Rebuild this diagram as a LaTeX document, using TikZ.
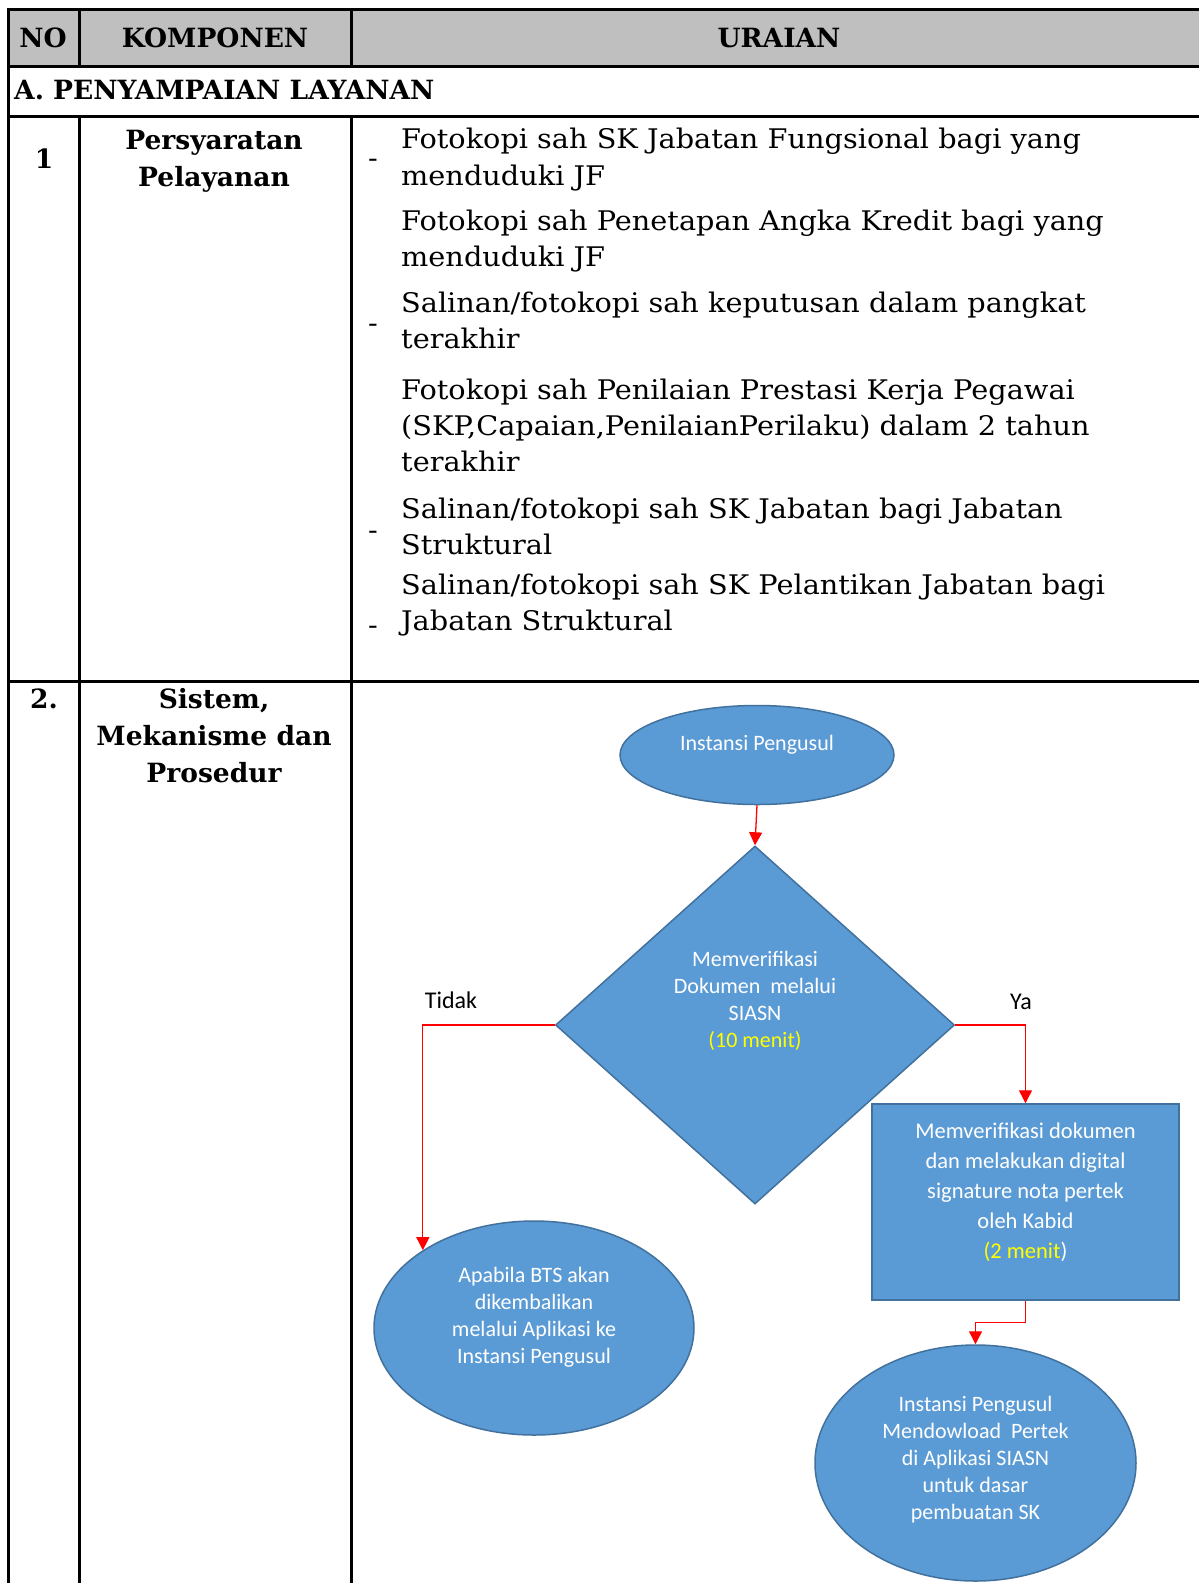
\documentclass[tikz,border=0pt]{standalone}
\usepackage{fontspec}
\setmainfont{DejaVu Serif}[FakeStretch=1.065]
\newfontfamily\hdrfont{DejaVu Serif}
\newfontfamily\flowfont{Carlito}
\usetikzlibrary{shapes.geometric,arrows.meta,calc}
\definecolor{hdrgray}{HTML}{BFBFBF}
\definecolor{boxblue}{HTML}{5B9BD5}
\definecolor{boxedge}{HTML}{41719C}
\definecolor{hiyellow}{HTML}{FFFF00}
\definecolor{arrowred}{HTML}{FF0000}
\begin{document}
\begin{tikzpicture}[x=1pt,y=-1pt,
  rule/.style={line width=3pt, draw=black, line cap=rect},
  hdr/.style={font=\hdrfont\fontsize{26.5}{30}\selectfont\bfseries, anchor=mid, inner sep=0},
  body/.style={font=\fontsize{27}{30}\selectfont, anchor=mid west, inner sep=0},
  flowtxt/.style={font=\flowfont\fontsize{22}{27}\selectfont, text=white, align=center, inner sep=0},
  blueshape/.style={fill=boxblue, draw=boxedge, line width=1.5pt, inner sep=0},
  redarrow/.style={draw=arrowred, line width=1.3pt, -{Triangle[length=13pt,width=13pt]}},
  lbl/.style={font=\flowfont\fontsize{24}{27}\selectfont, text=black, inner sep=0}
]
\useasboundingbox (0,0) rectangle (1199,1583);
\fill[white] (0,0) rectangle (1199,1583);
% ---------- table ----------
\fill[hdrgray] (8,9) rectangle (1201,66);
\draw[rule] (8,9) -- (1202,9);
\draw[rule] (8,66) -- (1202,66);
\draw[rule] (8,116) -- (1202,116);
\draw[rule] (8,681) -- (1202,681);
\draw[rule] (8,9) -- (8,1590);
\draw[rule] (79,9) -- (79,66);
\draw[rule] (351,9) -- (351,66);
\draw[rule] (79,116) -- (79,1590);
\draw[rule] (351,116) -- (351,1590);
% header
\node[hdr] (hno) at (43,45) {NO};
\node[hdr] (hkomp) at (215,45) {KOMPONEN};
\node[hdr] (hurai) at (779,45) {URAIAN};
\node[hdr, anchor=mid west] (secA) at (14,97) {A. PENYAMPAIAN LAYANAN};
% row 1
\node[hdr] (no1) at (44,166) {1};
\node[hdr] (k1a) at (214,147) {Persyaratan};
\node[hdr] (k1b) at (214,184) {Pelayanan};
\node[body] (u1) at (401,146) {Fotokopi sah SK Jabatan Fungsional bagi yang};
\node[body] (u2) at (401,183) {menduduki JF};
\node[body] (u3) at (401,228) {Fotokopi sah Penetapan Angka Kredit bagi yang};
\node[body] (u4) at (401,264) {menduduki JF};
\node[body] (u5) at (401,310) {Salinan/fotokopi sah keputusan dalam pangkat};
\node[body] (u6) at (401,346) {terakhir};
\node[body] (u7) at (401,397) {Fotokopi sah Penilaian Prestasi Kerja Pegawai};
\node[body] (u8) at (401,433) {(SKP,Capaian,PenilaianPerilaku) dalam 2 tahun};
\node[body] (u9) at (401,469) {terakhir};
\node[body] (u10) at (401,516) {Salinan/fotokopi sah SK Jabatan bagi Jabatan};
\node[body] (u11) at (401,552) {Struktural};
\node[body] (u12) at (401,592) {Salinan/fotokopi sah SK Pelantikan Jabatan bagi};
\node[body] (u13) at (401,628) {Jabatan Struktural};
\node[body] (d1) at (368,165) {-};
\node[body] (d2) at (368,330) {-};
\node[body] (d3) at (368,537) {-};
\node[body] (d4) at (368,632) {-};
% row 2
\node[hdr] (no2) at (44,706) {2.};
\node[hdr] (k2a) at (214,706) {Sistem,};
\node[hdr] (k2b) at (214,743) {Mekanisme dan};
\node[hdr] (k2c) at (214,780) {Prosedur};
% ---------- flowchart ----------
\node[blueshape, ellipse, minimum width=274pt, minimum height=99pt] (ip) at (757,755) {};
\node[flowtxt] (iptxt) at (757,745) {Instansi Pengusul};
\node[blueshape, diamond, minimum width=399pt, minimum height=358pt] (dia) at (755,1025) {};
\node[flowtxt] (diatxt) at (755,1001) {Memverifikasi\\Dokumen\ \ melalui\\SIASN\\\textcolor{hiyellow}{(10 menit)}};
\node[blueshape, ellipse, minimum width=320pt, minimum height=214pt] (bts) at (534,1328) {};
\node[flowtxt] (btstxt) at (534,1317) {Apabila BTS akan\\dikembalikan\\melalui Aplikasi ke\\Instansi Pengusul};
\node[blueshape, rectangle, minimum width=307pt, minimum height=196pt] (kabid) at (1025.5,1202) {};
\node[flowtxt, font=\flowfont\fontsize{22.5}{30}\selectfont] (kabidtxt) at (1025.5,1192) {Memverifikasi dokumen\\dan melakukan digital\\signature nota pertek\\oleh Kabid\\\textcolor{hiyellow}{(2 menit})};
\node[blueshape, ellipse, minimum width=321pt, minimum height=236pt] (pk) at (975.5,1463) {};
\node[flowtxt] (pktxt) at (975.5,1460) {Instansi Pengusul\\Mendowload\ \ Pertek\\di Aplikasi SIASN\\untuk dasar\\pembuatan SK};
\node[lbl] (tidak) at (451,1000) {Tidak};
\node[lbl] (ya) at (1021,1002) {Ya};
% connectors
\draw[redarrow] (ip.south) -- (dia.north);
\draw[redarrow] (dia.west) -| (bts.145.8);
\draw[redarrow] (dia.east) -| (kabid.north);
\draw[redarrow] (kabid.south) -- ++(0,22) -| (pk.north);
\end{tikzpicture}
\end{document}
